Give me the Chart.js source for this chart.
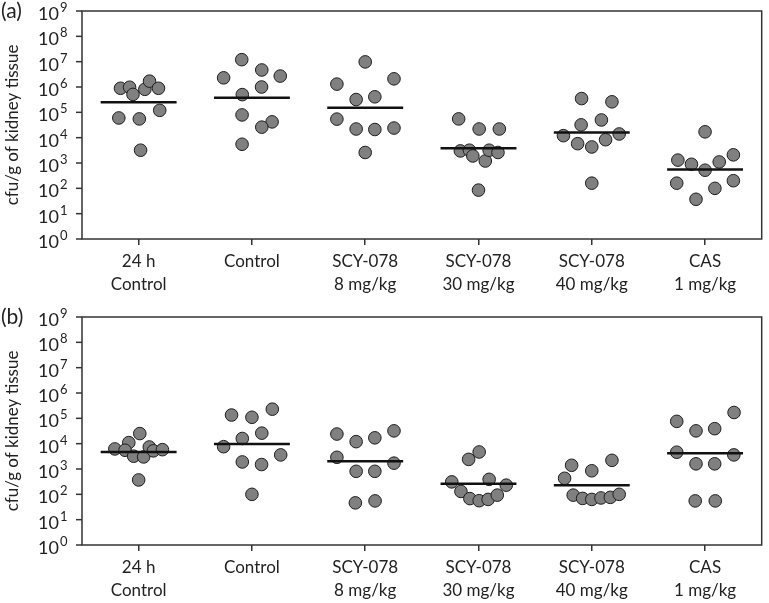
<!DOCTYPE html>
<html>
<head>
<meta charset="utf-8">
<script src="https://cdn.jsdelivr.net/npm/chart.js@4.4.0/dist/chart.umd.min.js"></script>
<style>
  html, body { margin: 0; padding: 0; background: #fff; overflow: hidden; }
  .panel { position: absolute; left: 0; width: 769px; height: 300px; }
  .tag { position: absolute; left: 1px; font-family: Lato, sans-serif; font-size: 21px; color: #222; }
</style>
</head>
<body>
<div class="panel" style="top:0"><canvas id="chartA"></canvas></div>
<div class="tag" style="top:-3px">(a)</div>
<div class="panel" style="top:306px"><canvas id="chartB"></canvas></div>
<div class="tag" style="top:303px">(b)</div>
<script>
// groups on the x axis
const groups = [['24 h', 'Control'], 'Control', ['SCY-078', '8 mg/kg'], ['SCY-078', '30 mg/kg'], ['SCY-078', '40 mg/kg'], ['CAS', '1 mg/kg']];
const yTicks = [1, 10, 1e2, 1e3, 1e4, 1e5, 1e6, 1e7, 1e8, 1e9];

// panel (a): cfu/g per animal, one row per group
const aValues = [
    [8.9e5, 9.8e5, 8.1e5, 1.7e6, 8.9e5, 5.1e5, 6.0e4, 5.5e4, 1.2e5, 3.2e3],
    [2.3e6, 1.2e7, 4.7e6, 2.7e6, 1.0e6, 5.0e5, 7.9e4, 4.2e4, 2.6e4, 5.5e3],
    [1.3e6, 9.8e6, 2.1e6, 3.2e5, 4.1e5, 5.4e4, 2.2e4, 2.1e4, 2.4e4, 2.6e3],
    [5.5e4, 2.2e4, 2.2e4, 3.0e3, 3.2e3, 1.9e3, 1.2e3, 3.2e3, 2.6e3, 85],
    [3.5e5, 2.6e5, 5.0e4, 3.2e4, 1.2e4, 1.4e4, 5.8e3, 8.3e3, 4.3e3, 160],
    [1.7e4, 1.3e3, 890, 520, 1.1e3, 2.1e3, 160, 200, 100, 37]
];
// horizontal spread of the dots inside each group
const aOffsets = [
    [-0.16, -0.08, 0.055, 0.096, 0.175, -0.05, -0.175, 0.006, 0.186, 0.017],
    [-0.25, -0.09, 0.087, 0.25, 0.085, -0.085, -0.087, 0.178, 0.087, -0.087],
    [-0.25, 0, 0.254, -0.08, 0.085, -0.25, -0.08, 0.085, 0.254, 0],
    [-0.175, 0.006, 0.184, -0.16, -0.08, -0.05, 0.06, 0.094, 0.172, 0],
    [-0.09, 0.178, 0.085, -0.094, -0.25, 0.242, -0.125, 0.122, 0, 0],
    [0, -0.24, -0.12, 0, 0.125, 0.25, -0.25, 0.25, 0.087, -0.08]
];
const aMedians = [2.5e5, 3.8e5, 1.5e5, 3.8e3, 1.6e4, 550];

// panel (b)
const bValues = [
    [2.5e4, 1.1e4, 6.2e3, 5.5e3, 3.2e3, 3.0e3, 7.4e3, 5.2e3, 5.8e3, 370],
    [1.35e5, 1.1e5, 2.3e5, 1.6e4, 2.6e4, 7.6e3, 3.6e3, 1.9e3, 1.5e3, 100],
    [2.4e4, 1.2e4, 1.7e4, 3.2e4, 2.9e3, 1.7e3, 810, 810, 46, 55],
    [4.7e3, 2.4e3, 310, 390, 230, 130, 68, 56, 63, 93],
    [2.2e3, 1.4e3, 850, 430, 93, 69, 63, 72, 76, 100],
    [1.7e5, 7.6e4, 3.2e4, 3.9e4, 4.6e3, 3.6e3, 1.6e3, 1.6e3, 55, 55]
];
const bOffsets = [
    [0.01, -0.087, -0.21, -0.12, -0.044, 0.044, 0.094, 0.13, 0.21, 0],
    [-0.18, 0, 0.18, -0.085, 0.087, -0.25, 0.254, -0.085, 0.085, 0],
    [-0.25, -0.08, 0.085, 0.254, -0.25, 0.254, -0.08, 0.085, -0.087, 0.087],
    [0.006, -0.087, -0.236, 0.094, 0.245, -0.155, -0.076, 0.006, 0.085, 0.166],
    [0.178, -0.178, 0, -0.24, -0.164, -0.081, 0, 0.081, 0.164, 0.242],
    [0.256, -0.25, -0.08, 0.085, -0.25, 0.254, -0.08, 0.085, -0.087, 0.09]
];
const bMedians = [4.7e3, 9.8e3, 2.0e3, 260, 230, 4.2e3];

const fontFamily = 'Lato, "Open Sans", sans-serif';
const halfWidth = 0.335;

// box round the plot area
const frame = {
    id: 'frame',
    afterDraw(chart) {
        const a = chart.chartArea;
        const ctx = chart.ctx;
        ctx.save();
        ctx.strokeStyle = '#333';
        ctx.lineWidth = 1.5;
        ctx.strokeRect(a.left, a.top, a.right - a.left, a.bottom - a.top);
        ctx.restore();
    }
};

// power-of-ten labels with a raised exponent, plus the small ticks
const powerLabels = {
    id: 'powerLabels',
    afterDraw(chart) {
        const s = chart.scales.y;
        const left = chart.chartArea.left;
        const ctx = chart.ctx;
        ctx.save();
        ctx.strokeStyle = '#333';
        ctx.lineWidth = 1.5;
        ctx.fillStyle = '#222';
        ctx.textBaseline = 'alphabetic';
        yTicks.forEach(v => {
            const y = s.getPixelForValue(v);
            ctx.beginPath();
            ctx.moveTo(left - 6, y);
            ctx.lineTo(left, y);
            ctx.stroke();
            ctx.font = '18px ' + fontFamily;
            ctx.textAlign = 'right';
            ctx.fillText('10', left - 23, y + 9);
            ctx.font = '13px ' + fontFamily;
            ctx.textAlign = 'left';
            ctx.fillText(String(Math.round(Math.log10(v))), left - 22, y + 1);
        });
        ctx.restore();
    }
};

function makeChart(id, values, offsets, medians) {
    const points = [];
    values.forEach((row, i) => row.forEach((v, j) => points.push({ x: i + offsets[i][j], y: v })));

    const medianSets = medians.map((m, i) => ({
        type: 'line',
        data: [{ x: i - halfWidth, y: m }, { x: i + halfWidth, y: m }],
        borderColor: '#111',
        borderWidth: 2.5,
        pointRadius: 0,
        order: 0
    }));

    new Chart(document.getElementById(id), {
        type: 'scatter',
        data: {
            datasets: [...medianSets, {
                data: points,
                backgroundColor: '#808080',
                borderColor: '#1e1e1e',
                borderWidth: 1,
                pointRadius: 6.3,
                order: 1
            }]
        },
        options: {
            responsive: true,
            maintainAspectRatio: false,
            animation: false,
            layout: { padding: { top: 11, right: 2, left: 0, bottom: 0 } },
            plugins: { legend: { display: false }, tooltip: { enabled: false } },
            scales: {
                x: {
                    type: 'linear',
                    min: -0.5,
                    max: 5.5,
                    afterBuildTicks: scale => { scale.ticks = groups.map((g, i) => ({ value: i })); },
                    afterFit: scale => { scale.height = 61; },
                    grid: { display: true, drawOnChartArea: false, drawTicks: true, tickLength: 6, color: '#333', lineWidth: 1.5 },
                    border: { display: false },
                    ticks: {
                        autoSkip: false,
                        maxRotation: 0,
                        padding: 5,
                        color: '#222',
                        font: { family: fontFamily, size: 17, lineHeight: 1.35 },
                        callback: v => groups[v]
                    }
                },
                y: {
                    type: 'logarithmic',
                    min: 1,
                    max: 1e9,
                    afterFit: scale => { scale.width = 82; },
                    grid: { display: false },
                    border: { display: false },
                    title: {
                        display: true,
                        text: 'cfu/g of kidney tissue',
                        color: '#222',
                        font: { family: fontFamily, size: 17 },
                        padding: { top: 2, bottom: 0 }
                    },
                    ticks: { display: false }
                }
            }
        },
        plugins: [frame, powerLabels]
    });
}

makeChart('chartA', aValues, aOffsets, aMedians);
makeChart('chartB', bValues, bOffsets, bMedians);
</script>
</body>
</html>
